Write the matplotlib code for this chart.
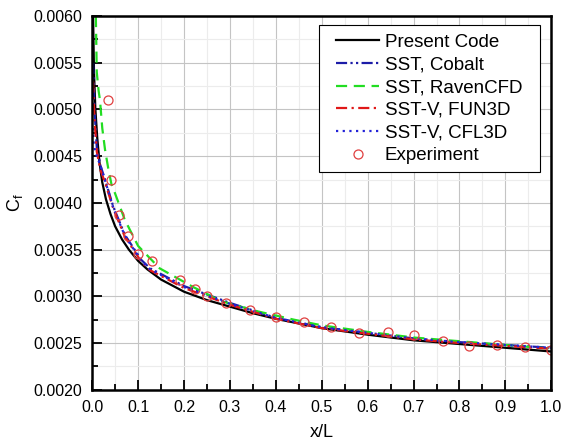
import matplotlib
matplotlib.use("Agg")
import matplotlib.pyplot as plt
from matplotlib.patches import Rectangle
from matplotlib.ticker import MultipleLocator, FormatStrFormatter

plt.rcParams['font.family'] = ['Liberation Sans', 'DejaVu Sans']

# Present Code
x_present = [0.002, 0.004, 0.007, 0.011, 0.016, 0.022, 0.03, 0.04, 0.05, 0.065, 0.08, 0.1, 0.12,
             0.15, 0.2, 0.25, 0.3, 0.35, 0.4, 0.5, 0.6, 0.7, 0.8, 0.9, 1.0]
cf_present = [0.0060, 0.0054, 0.0050, 0.0047, 0.00443, 0.00422, 0.00404, 0.00388, 0.00375, 0.00361,
              0.00350, 0.00338, 0.00329, 0.00318, 0.00305, 0.00296, 0.00289, 0.00282, 0.00276,
              0.00266, 0.00259, 0.00253, 0.00249, 0.00245, 0.00241]

# SST, Cobalt
x_cobalt = [0.002, 0.005, 0.01, 0.018, 0.028, 0.046, 0.071, 0.107, 0.126, 0.2, 0.3, 0.4, 0.5,
            0.6, 0.7, 0.8, 0.9, 1.0]
cf_cobalt = [0.0055, 0.0050, 0.0046, 0.0044, 0.00425, 0.00396, 0.00366, 0.00339, 0.00330, 0.00311,
             0.00293, 0.00277, 0.00267, 0.00261, 0.00255, 0.00251, 0.00248, 0.00245]

# SST, RavenCFD
x_raven = [0.008, 0.010, 0.014, 0.017, 0.022, 0.028, 0.035, 0.042, 0.05, 0.071, 0.1, 0.147, 0.22,
           0.28, 0.36, 0.44, 0.5, 0.6, 0.7, 0.8, 0.9, 1.0]
cf_raven = [0.0060, 0.0054, 0.0052, 0.0051, 0.0048, 0.00457, 0.00437, 0.0042, 0.0041, 0.00382,
            0.00354, 0.00330, 0.00310, 0.00295, 0.00284, 0.00275, 0.00269, 0.00262, 0.00256,
            0.00252, 0.00248, 0.00244]

# SST-V, FUN3D
x_fun3d = [0.002, 0.005, 0.01, 0.018, 0.028, 0.046, 0.071, 0.107, 0.126, 0.2, 0.3, 0.4, 0.5,
           0.6, 0.7, 0.8, 0.9, 1.0]
cf_fun3d = [0.0053, 0.0049, 0.00455, 0.00435, 0.00422, 0.00394, 0.00364, 0.00337, 0.00328, 0.00309,
            0.00291, 0.00276, 0.00266, 0.00260, 0.00254, 0.00250, 0.00247, 0.00244]

# SST-V, CFL3D
x_cfl3d = [0.001, 0.004, 0.01, 0.018, 0.028, 0.046, 0.071, 0.107, 0.126, 0.2, 0.3, 0.4, 0.5,
           0.6, 0.7, 0.8, 0.9, 1.0]
cf_cfl3d = [0.0048, 0.0046, 0.0045, 0.0044, 0.00424, 0.00395, 0.00365, 0.00338, 0.00329, 0.00310,
            0.00292, 0.00277, 0.00267, 0.00261, 0.00255, 0.00251, 0.00248, 0.00245]

# Experiment
x_exp = [0.034, 0.040, 0.059, 0.078, 0.0995, 0.130, 0.192, 0.224, 0.251, 0.292, 0.343, 0.401,
         0.462, 0.521, 0.581, 0.644, 0.701, 0.764, 0.821, 0.882, 0.942, 1.0]
cf_exp = [0.00510, 0.00425, 0.00387, 0.00365, 0.00345, 0.00338, 0.00318, 0.00308, 0.00300,
          0.00293, 0.00285, 0.00278, 0.00273, 0.00267, 0.00261, 0.00262, 0.00259, 0.00252,
          0.00247, 0.00248, 0.00246, 0.00243]

fig = plt.figure(figsize=(5.62, 4.45), dpi=100)
ax = fig.add_axes([0.164, 0.124, 0.817, 0.840])

ax.plot(x_present, cf_present, color='black', lw=1.6, label='Present Code')
ax.plot(x_cobalt, cf_cobalt, color='#1c1ca8', lw=1.6, dashes=[5, 1.5, 1, 1.5, 1, 1.5],
        label='SST, Cobalt')
ax.plot(x_raven, cf_raven, color='#22dd22', lw=1.6, dashes=[5, 3], label='SST, RavenCFD')
ax.plot(x_fun3d, cf_fun3d, color='#e01818', lw=1.6, dashes=[5, 2, 1, 2], label='SST-V, FUN3D')
ax.plot(x_cfl3d, cf_cfl3d, color='#2222d8', lw=1.6, dashes=[1, 2], label='SST-V, CFL3D')
ax.plot(x_exp, cf_exp, 'o', mfc='none', mec='#e04040', ms=6.5, mew=0.9, label='Experiment')

ax.set_xlim(0, 1)
ax.set_ylim(0.002, 0.006)
ax.xaxis.set_major_locator(MultipleLocator(0.1))
ax.xaxis.set_minor_locator(MultipleLocator(0.05))
ax.yaxis.set_major_locator(MultipleLocator(0.0005))
ax.yaxis.set_minor_locator(MultipleLocator(0.00025))
ax.xaxis.set_major_formatter(FormatStrFormatter('%.1f'))
ax.yaxis.set_major_formatter(FormatStrFormatter('%.4f'))

ax.grid(which='major', color='#c4c4c4', lw=0.8)
ax.grid(which='minor', color='#ececec', lw=0.8)
ax.set_axisbelow(True)

ax.tick_params(which='both', direction='in', top=False, right=False, labelsize=11.5, width=1.3)
ax.tick_params(which='major', length=7, pad=7)
ax.tick_params(which='minor', length=4)
for s in ax.spines.values():
    s.set_linewidth(1.8)

ax.set_xlabel('x/L', fontsize=13, labelpad=7)
ax.set_ylabel('C$_\\mathregular{f}$', fontsize=13, labelpad=6)

# legend box drawn by hand so that side padding is wider than top/bottom padding
ax.add_patch(Rectangle((0.495, 0.583), 0.481, 0.393, transform=ax.transAxes,
                       facecolor='white', edgecolor='black', lw=0.8, zorder=4.5))
leg = ax.legend(loc='center', bbox_to_anchor=(0.734, 0.778), fontsize=13.5, frameon=False,
                handlelength=2.3, handletextpad=0.3, labelspacing=0.3, borderpad=0,
                borderaxespad=0)

fig.savefig('out.png', dpi=100)
